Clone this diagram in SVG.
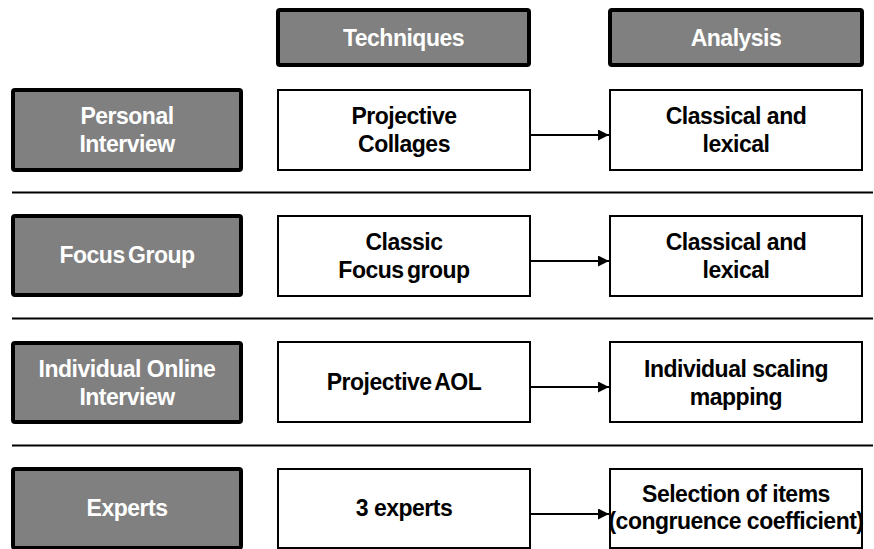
<svg xmlns="http://www.w3.org/2000/svg" width="874" height="549" viewBox="0 0 874 549">
<defs>
<style>
.g{fill:#808080;stroke:#000;stroke-width:4}
.w{fill:#fff;stroke:#000;stroke-width:2}
.t{font-family:"Liberation Sans",Arial,sans-serif;font-weight:bold;font-size:23px;letter-spacing:-0.5px;text-anchor:middle}
.tw{fill:#fff}
.tb{fill:#000}
.sep{stroke:#000;stroke-width:2}
.c{stroke:#000;stroke-width:2;fill:none}
</style>
<marker id="ah" markerWidth="11" markerHeight="11" refX="11" refY="5.5" orient="auto" markerUnits="userSpaceOnUse">
<path d="M0,0 L11,5.5 L0,11 Z" fill="#000"/>
</marker>
</defs>
<rect width="874" height="549" fill="#fff"/>

<g id="hdr-techniques"><rect class="g" x="278" y="10" width="251" height="55" rx="2"/><text class="t tw" x="403.5" y="45.5">Techniques</text></g>
<g id="hdr-analysis"><rect class="g" x="610" y="10" width="252" height="55" rx="2"/><text class="t tw" x="736" y="45.5">Analysis</text></g>

<g id="personal-interview"><rect class="g" x="13" y="90" width="228" height="80" rx="2"/><text class="t tw" x="127" y="124">Personal</text><text class="t tw" x="127" y="152">Interview</text></g>
<g id="projective-collages"><rect class="w" x="278" y="90" width="252" height="80"/><text class="t tb" x="404" y="124">Projective</text><text class="t tb" x="404" y="152">Collages</text></g>
<g id="classical-lexical-1"><rect class="w" x="610" y="90" width="252" height="80"/><text class="t tb" x="736" y="124">Classical and</text><text class="t tb" x="736" y="152">lexical</text></g>

<g id="focus-group"><rect class="g" x="13" y="216" width="228" height="79" rx="2"/><text class="t tw" x="127" y="263" word-spacing="-2.5">Focus Group</text></g>
<g id="classic-focus-group"><rect class="w" x="278" y="216" width="252" height="80"/><text class="t tb" x="404" y="250">Classic</text><text class="t tb" x="404" y="278" word-spacing="-2.5">Focus group</text></g>
<g id="classical-lexical-2"><rect class="w" x="610" y="216" width="252" height="80"/><text class="t tb" x="736" y="250">Classical and</text><text class="t tb" x="736" y="278">lexical</text></g>

<g id="individual-online-interview"><rect class="g" x="13" y="343" width="228" height="79" rx="2"/><text class="t tw" x="127" y="377">Individual Online</text><text class="t tw" x="127" y="405">Interview</text></g>
<g id="projective-aol"><rect class="w" x="278" y="342" width="252" height="80"/><text class="t tb" x="404" y="390" word-spacing="-2.5">Projective AOL</text></g>
<g id="individual-scaling"><rect class="w" x="610" y="342" width="252" height="80"/><text class="t tb" x="736" y="377">Individual scaling</text><text class="t tb" x="736" y="405">mapping</text></g>

<g id="experts"><rect class="g" x="13" y="469" width="228" height="79" rx="2"/><text class="t tw" x="127" y="516">Experts</text></g>
<g id="three-experts"><rect class="w" x="278" y="469" width="252" height="79"/><text class="t tb" x="404" y="516">3 experts</text></g>
<g id="selection-items"><rect class="w" x="610" y="469" width="252" height="79"/><text class="t tb" x="736" y="502">Selection of items</text><text class="t tb" x="736" y="529">(congruence coefficient)</text></g>

<g id="separators">
<line class="sep" x1="12" y1="192.5" x2="873" y2="192.5"/>
<line class="sep" x1="12" y1="318.5" x2="873" y2="318.5"/>
<line class="sep" x1="12" y1="445.5" x2="873" y2="445.5"/>
</g>

<g id="connectors">
<line class="c" x1="531" y1="135" x2="609" y2="135" marker-end="url(#ah)"/>
<line class="c" x1="531" y1="261" x2="609" y2="261" marker-end="url(#ah)"/>
<line class="c" x1="531" y1="387" x2="609" y2="387" marker-end="url(#ah)"/>
<line class="c" x1="531" y1="514" x2="609" y2="514" marker-end="url(#ah)"/>
</g>
</svg>
